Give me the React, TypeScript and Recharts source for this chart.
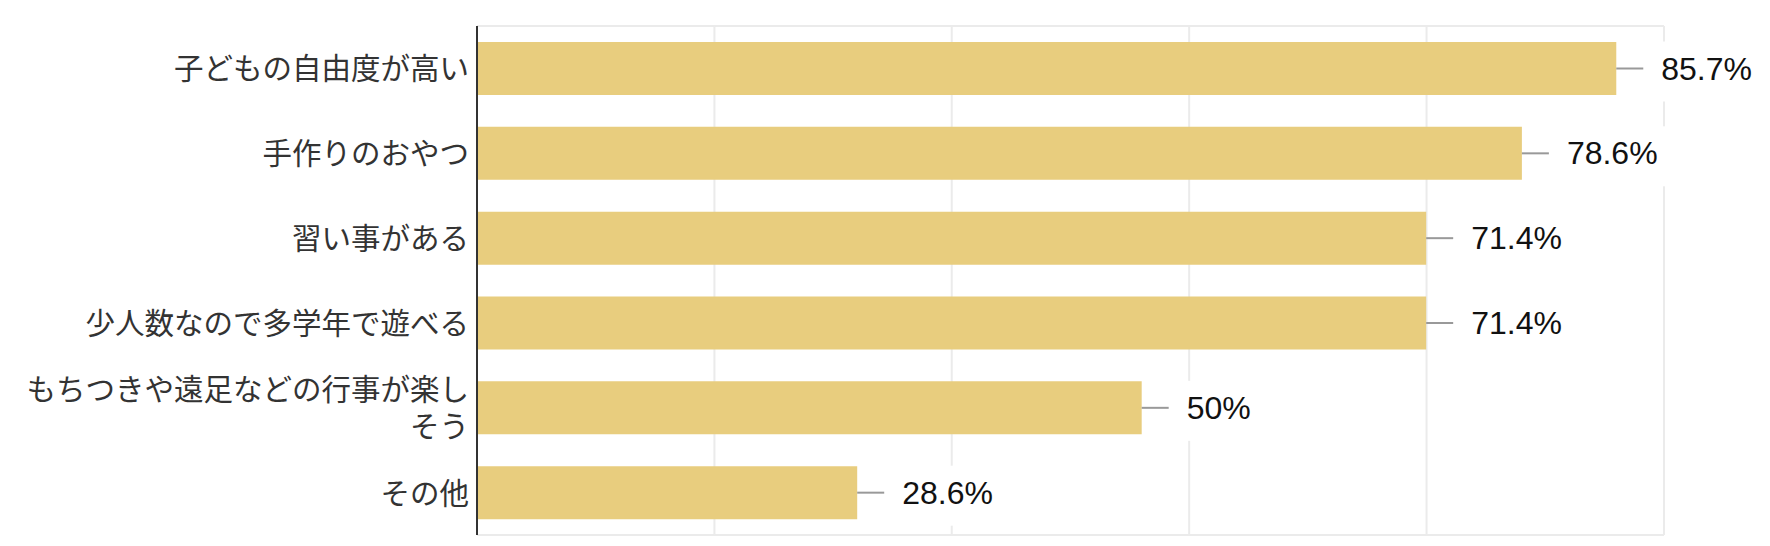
import React from "react";
import { BarChart, Bar, XAxis, YAxis, CartesianGrid, LabelList } from "recharts";

const categories = [
  "子どもの自由度が高い",
  "手作りのおやつ",
  "習い事がある",
  "少人数なので多学年で遊べる",
  "もちつきや遠足などの行事が楽しそう",
  "その他",
];
const shares = [85.7, 78.6, 71.4, 71.4, 50, 28.6];
const xTicks = [0, 17.86, 35.71, 53.57, 71.43, 89.29];

const data = categories.map((name, i) => ({ name, value: shares[i] }));

const jpFont = "'Liberation Sans', 'Noto Sans CJK JP', sans-serif";

function wrap(label: string, max: number) {
  const lines: string[] = [];
  for (let i = 0; i < label.length; i += max) lines.push(label.slice(i, i + max));
  return lines;
}

function CategoryTick({ x, y, payload }: any) {
  const lines = wrap(payload.value, 15);
  const lh = 37;
  return (
    <text
      x={x}
      y={y}
      textAnchor="end"
      fill="#333"
      fontSize={29.5}
      fontFamily={jpFont}
      dominantBaseline="central"
    >
      {lines.map((l, i) => (
        <tspan key={i} x={x} dy={i === 0 ? -((lines.length - 1) * lh) / 2 : lh}>
          {l}
        </tspan>
      ))}
    </text>
  );
}

function fmt(v: number) {
  return `${v}%`;
}

function ValueLabel({ x, y, width, height, value }: any) {
  const end = x + width;
  const cy = y + height / 2;
  const text = fmt(value);
  const tx = end + 45;
  const w = text.length * 18.5;
  return (
    <g>
      <line x1={end} x2={end + 27} y1={cy} y2={cy} stroke="#999" strokeWidth={2} />
      <rect x={tx - 10} y={cy - 27} width={w + 20} height={60} fill="#fff" />
      <text
        x={tx}
        y={cy}
        fill="#111"
        fontSize={32}
        fontFamily="'Liberation Sans', Arial, sans-serif"
        dominantBaseline="central"
      >
        {text}
      </text>
    </g>
  );
}

// x axis has no visible tick labels, but ticks must exist for the grid
const NoTick = () => <g />;

export default function App() {
  return (
    <div style={{ position: "absolute", left: 0, top: 0, background: "#fff" }}>
      <BarChart
        width={1770}
        height={546}
        data={data}
        layout="vertical"
        margin={{ top: 26, right: 106, bottom: 11, left: 0 }}
      >
        <CartesianGrid
          stroke="#ebebeb"
          strokeWidth={2}
          horizontalPoints={[26, 535]}
        />
        <XAxis
          type="number"
          domain={[0, 89.29]}
          ticks={xTicks}
          tick={NoTick}
          interval={0}
          tickLine={false}
          axisLine={false}
          height={0}
          allowDataOverflow
        />
        <YAxis
          type="category"
          dataKey="name"
          width={477}
          tickLine={false}
          axisLine={{ stroke: "#333", strokeWidth: 2 }}
          tick={<CategoryTick />}
          interval={0}
        />
        <Bar dataKey="value" fill="#e8cd7e" barSize={53} isAnimationActive={false}>
          <LabelList dataKey="value" content={<ValueLabel />} />
        </Bar>
      </BarChart>
    </div>
  );
}
